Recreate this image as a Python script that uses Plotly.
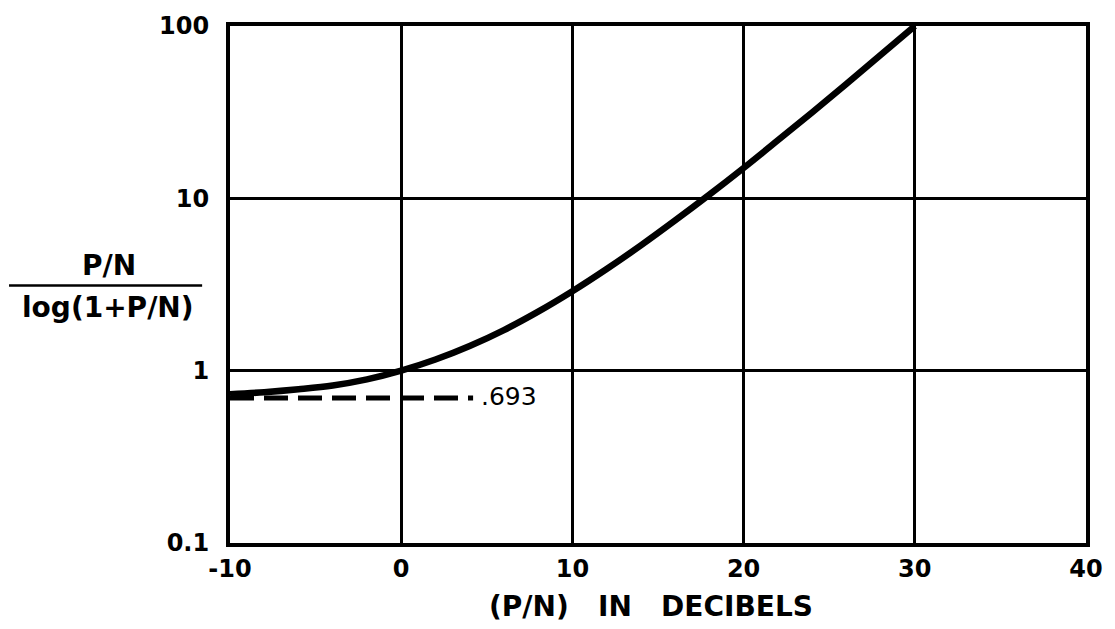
import math
import plotly.graph_objects as go

# Data
snr_db = [-10, -8, -6, -4, -2, 0, 2, 4, 6, 8, 10, 12, 14, 16, 18, 20, 22, 24, 26, 28, 30]
ratio = [0.73, 0.75, 0.78, 0.82, 0.89, 1.0, 1.16, 1.39, 1.72, 2.2, 2.89, 3.89, 5.33, 7.44, 10.5,
         15.0, 21.7, 31.5, 46.1, 67.8, 100.0]
asym_x = [-10, 4.2]
asym_y = [0.693, 0.693]
asym_label = ".693"
x_ticks = [-10, 0, 10, 20, 30, 40]
y_ticks = [0.1, 1, 10, 100]
y_tick_text = ["0.1", "1", "10", "100"]

FONT = "DejaVu Sans"
W, H = 1115, 629
l, r, t, b = 230, 25, 23, 86
pw, ph = W - l - r, H - t - b


def px(xp):
    return (xp - l) / pw


def py(yp):
    return (H - b - yp) / ph


fig = go.Figure()
fig.add_trace(go.Scatter(x=snr_db, y=ratio, mode="lines",
                         line=dict(color="black", width=6.5, shape="spline"),
                         showlegend=False, hoverinfo="skip"))
fig.add_trace(go.Scatter(x=asym_x, y=asym_y, mode="lines",
                         line=dict(color="black", width=5, dash="24px,10px"),
                         showlegend=False, hoverinfo="skip"))
fig.add_annotation(x=asym_x[-1], y=math.log10(asym_y[-1]), xref="x", yref="y", text=asym_label,
                   showarrow=False, xanchor="left", yanchor="middle", xshift=6, yshift=2,
                   font=dict(family=FONT, size=25, color="black"))

tickfont = dict(family=FONT, size=24, color="black", weight="bold")
fig.update_xaxes(range=[-10, 40], tickvals=x_ticks, ticktext=[str(v) for v in x_ticks],
                 showgrid=True, gridcolor="black", gridwidth=2.5,
                 showline=True, linecolor="black", linewidth=4, mirror=True,
                 ticks="outside", ticklen=1, tickcolor="rgba(0,0,0,0)",
                 tickfont=tickfont, zeroline=False)
fig.update_yaxes(type="log", range=[-1, 2], tickvals=y_ticks, ticktext=y_tick_text,
                 showgrid=True, gridcolor="black", gridwidth=2.5,
                 showline=True, linecolor="black", linewidth=4, mirror=True,
                 ticks="outside", ticklen=12, tickcolor="rgba(0,0,0,0)",
                 tickfont=tickfont, zeroline=False)

titlefont = dict(family=FONT, size=28, color="black", weight="bold")
fig.add_annotation(x=px(653), y=py(607), xref="paper", yref="paper",
                   text="(P/N)\u00a0\u00a0 IN\u00a0\u00a0 DECIBELS", xanchor="center", yanchor="middle",
                   showarrow=False, font=titlefont)
fig.add_annotation(x=px(108), y=py(264), xref="paper", yref="paper", text="P/N",
                   xanchor="center", yanchor="middle",
                   showarrow=False, font=titlefont)
fig.add_annotation(x=px(107), y=py(306), xref="paper", yref="paper", text="log(1+P/N)",
                   xanchor="center", yanchor="middle",
                   showarrow=False, font=titlefont)
fig.add_shape(type="line", xref="paper", yref="paper", x0=px(8), x1=px(202),
              y0=py(284), y1=py(284), line=dict(color="black", width=2.5))

fig.update_layout(width=W, height=H, margin=dict(l=l, r=r, t=t, b=b),
                  paper_bgcolor="white", plot_bgcolor="white")

fig.write_html("out.html")
